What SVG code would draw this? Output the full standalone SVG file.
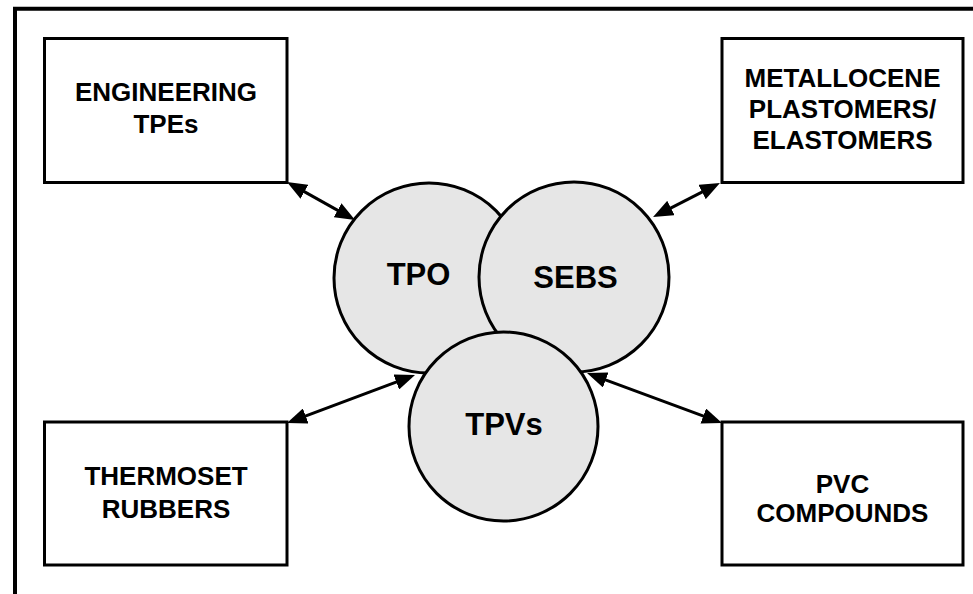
<svg xmlns="http://www.w3.org/2000/svg" width="973" height="594" viewBox="0 0 973 594">
  <style>
    .box { fill: #ffffff; stroke: #000000; stroke-width: 3; }
    .ring { fill: #e6e6e6; stroke: #000000; stroke-width: 3; }
    .label { font-family: "Liberation Sans", Arial, sans-serif; font-weight: bold; font-size: 26px; fill: #000000; text-anchor: middle; }
    .core { font-family: "Liberation Sans", Arial, sans-serif; font-weight: bold; font-size: 31px; fill: #000000; text-anchor: middle; }
    .link { stroke: #000000; stroke-width: 3; fill: none; marker-start: url(#head); marker-end: url(#head); }
  </style>
  <defs>
    <marker id="head" markerUnits="userSpaceOnUse" viewBox="0 0 20 16" markerWidth="20" markerHeight="16" refX="14" refY="8" orient="auto-start-reverse">
      <path d="M0,0 L20,8 L0,16 Z" fill="#000000"/>
    </marker>
  </defs>

  <rect width="973" height="594" fill="#ffffff"/>

  <!-- outer frame (top and left edges) -->
  <path d="M15,594 V8.7 H973" fill="none" stroke="#000000" stroke-width="4" stroke-linejoin="miter"/>

  <!-- material classes -->
  <g id="engineering-tpes">
    <rect class="box" x="44.5" y="38.5" width="242.5" height="144"/>
    <text class="label" x="166" y="101">ENGINEERING</text>
    <text class="label" x="166" y="133">TPEs</text>
  </g>
  <g id="metallocene">
    <rect class="box" x="722" y="38.5" width="241" height="144"/>
    <text class="label" x="842.5" y="87">METALLOCENE</text>
    <text class="label" x="842.5" y="118">PLASTOMERS/</text>
    <text class="label" x="842.5" y="149">ELASTOMERS</text>
  </g>
  <g id="thermoset-rubbers">
    <rect class="box" x="44.5" y="422" width="242.5" height="143"/>
    <text class="label" x="166" y="485">THERMOSET</text>
    <text class="label" x="166" y="518">RUBBERS</text>
  </g>
  <g id="pvc-compounds">
    <rect class="box" x="722" y="422" width="241" height="143"/>
    <text class="label" x="842.5" y="493">PVC</text>
    <text class="label" x="842.5" y="522">COMPOUNDS</text>
  </g>

  <!-- overlapping TPE families -->
  <g id="tpo">
    <circle class="ring" cx="429" cy="278" r="95"/>
    <text class="core" x="418.5" y="285">TPO</text>
  </g>
  <g id="sebs">
    <circle class="ring" cx="574" cy="277" r="95"/>
    <text class="core" x="575.5" y="288">SEBS</text>
  </g>
  <g id="tpvs">
    <circle class="ring" cx="503.5" cy="426.5" r="94.5"/>
    <text class="core" x="504" y="435">TPVs</text>
  </g>

  <!-- two-way connectors -->
  <g id="connectors">
    <line class="link" x1="292.2" y1="184.9" x2="349.8" y2="217.1"/>
    <line class="link" x1="714.6" y1="185.7" x2="658.4" y2="214.3"/>
    <line class="link" x1="292.6" y1="420.9" x2="409.4" y2="377.1"/>
    <line class="link" x1="592.6" y1="375.1" x2="716.4" y2="420.9"/>
  </g>
</svg>
